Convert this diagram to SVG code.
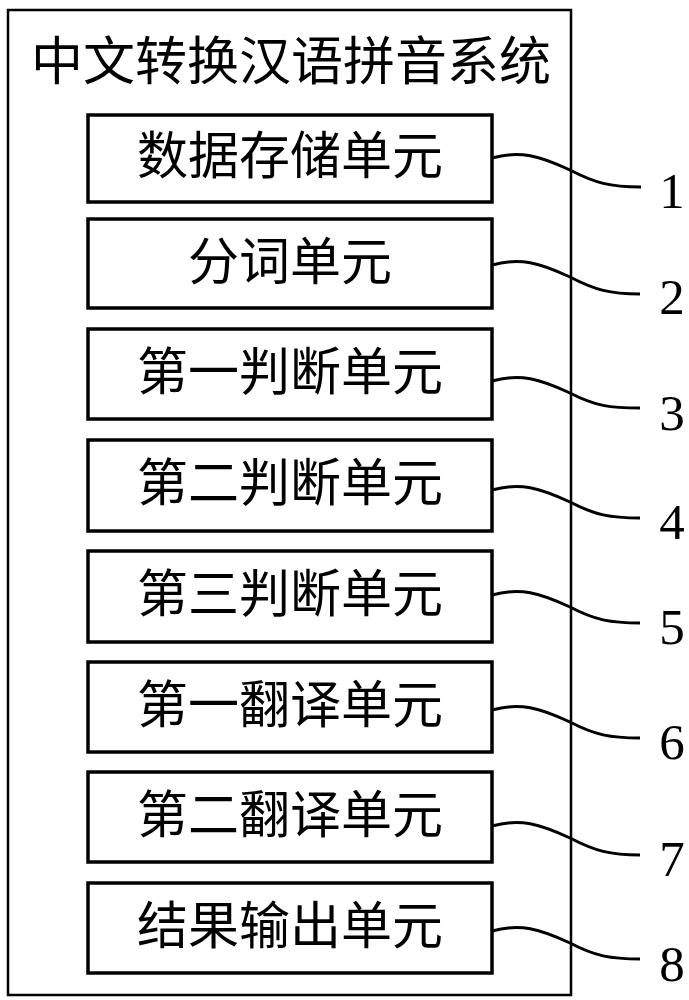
<svg xmlns="http://www.w3.org/2000/svg" width="689" height="1000" viewBox="0 0 689 1000">
<style>
.outer{fill:#fff;stroke:#000;stroke-width:2.5}
.box{fill:#fff;stroke:#000;stroke-width:3.5}
.t{font-family:"Liberation Serif","Noto Sans CJK SC",serif;font-size:51px;text-anchor:middle;fill:#000}
.title{font-size:52px}
.num{font-family:"Liberation Serif",serif;font-size:51px;text-anchor:middle;fill:#000}
.c{fill:none;stroke:#000;stroke-width:3}
</style>
<rect width="689" height="1000" fill="#fff"/>
<g id="system">
<rect class="outer" x="8" y="10" width="563" height="985"/>
<text class="t title" x="291" y="80">中文转换汉语拼音系统</text>
</g>
<g id="n1"><rect class="box" x="88" y="115" width="404" height="87"/><text class="t" x="290" y="174">数据存储单元</text></g>
<g id="n2"><rect class="box" x="88" y="219" width="404" height="89"/><text class="t" x="290" y="280">分词单元</text></g>
<g id="n3"><rect class="box" x="88" y="329" width="404" height="90"/><text class="t" x="290" y="390">第一判断单元</text></g>
<g id="n4"><rect class="box" x="88" y="440" width="404" height="91"/><text class="t" x="290" y="501">第二判断单元</text></g>
<g id="n5"><rect class="box" x="88" y="551" width="404" height="91"/><text class="t" x="290" y="612">第三判断单元</text></g>
<g id="n6"><rect class="box" x="88" y="662" width="404" height="90"/><text class="t" x="290" y="723">第一翻译单元</text></g>
<g id="n7"><rect class="box" x="88" y="772" width="404" height="90"/><text class="t" x="290" y="833">第二翻译单元</text></g>
<g id="n8"><rect class="box" x="88" y="883" width="404" height="90"/><text class="t" x="290" y="944">结果输出单元</text></g>
<g id="connectors">
<path class="c" d="M492,158 C520,150 540,156 570,170 C595,183 610,187 641,187"/>
<path class="c" d="M492,265 C520,257 540,263 570,277 C595,290 610,294 640,294"/>
<path class="c" d="M492,381 C520,373 540,379 570,393 C595,406 610,408 640,408"/>
<path class="c" d="M492,490 C520,482 540,488 570,502 C595,515 610,518 640,518"/>
<path class="c" d="M492,595 C520,587 540,593 570,607 C595,620 610,623 640,623"/>
<path class="c" d="M492,710 C520,702 540,708 570,722 C595,735 610,738 640,738"/>
<path class="c" d="M492,826 C520,818 540,824 570,838 C595,851 610,855 640,855"/>
<path class="c" d="M492,931 C520,923 540,929 570,943 C595,956 610,959 640,959"/>
</g>
<g id="labels">
<text class="num" x="672" y="208">1</text>
<text class="num" x="672" y="314">2</text>
<text class="num" x="672" y="430">3</text>
<text class="num" x="672" y="539">4</text>
<text class="num" x="672" y="644">5</text>
<text class="num" x="672" y="759">6</text>
<text class="num" x="672" y="876">7</text>
<text class="num" x="672" y="981">8</text>
</g>
</svg>
